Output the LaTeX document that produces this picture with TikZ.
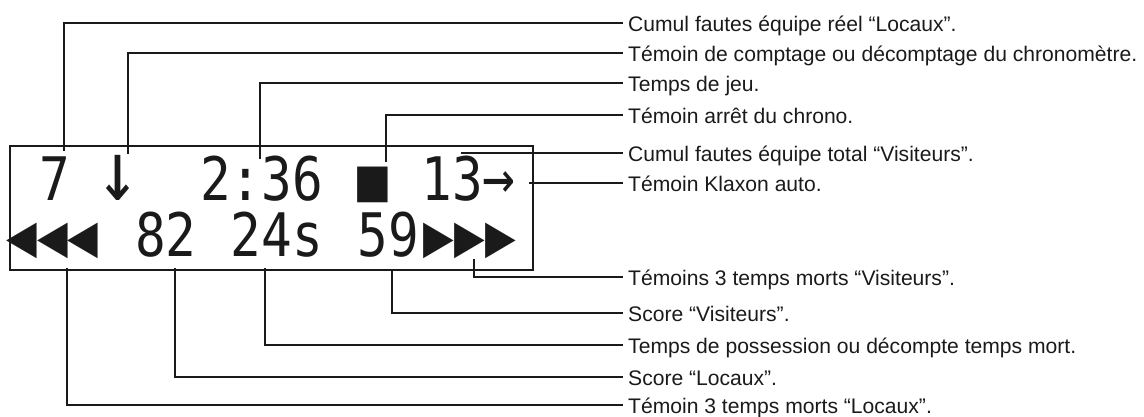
\documentclass[tikz,border=0pt]{standalone}
\usepackage{fontspec}
\setmainfont{Liberation Sans}
\newfontfamily\lcdfont[FakeStretch=0.85]{DejaVu Sans Mono}
\usetikzlibrary{positioning}
\definecolor{ink}{HTML}{1A1A1A}

\begin{document}
\begin{tikzpicture}[x=1pt, y=-1pt,
    lcd/.style={font=\lcdfont\fontsize{60}{60}\selectfont, text=ink, inner sep=0pt, anchor=base},
    lcdbig/.style={lcd, font=\lcdfont\fontsize{84}{84}\selectfont},
    lbl/.style={font=\fontsize{21.1}{24}\selectfont, text=ink, anchor=west, inner xsep=5pt, inner ysep=0pt, text height=16pt, text depth=0pt},
    lead/.style={draw=ink, line width=1.2pt}
]
    \useasboundingbox (0,0) rectangle (1144,416);

    % display
    \node (screen) [draw=ink, line width=1.3pt, minimum width=523pt, minimum height=124pt, inner sep=0pt] at (271.5,208) {};

    \node (fl) [lcd] at (55,200) {7};
    \node (dir) [lcdbig] at (118,200) {↓};
    \node (clock) [lcd] at (261.5,200) {2:36};
    \node (stop) [lcd] at (372.5,200) {■};
    \node (fv) [lcd] at (452,200) {13};
    \node (horn) [lcd, font=\lcdfont\fontsize{64}{64}\selectfont] at (499,199) {→};

    \node (tml) [lcd] at (52.5,256) {◀◀◀};
    \node (sl) [lcd] at (166,256) {82};
    \node (poss) [lcd] at (277,256) {24s};
    \node (sv) [lcd] at (388,256) {59};
    \node (tmv) [lcd] at (470,256) {▶▶▶};

    % labels
    \node (l-fl) [lbl] at (623,23) {Cumul fautes équipe réel “Locaux”.};
    \node (l-dir) [lbl] at (623,53) {Témoin de comptage ou décomptage du chronomètre.};
    \node (l-clock) [lbl] at (623,83) {Temps de jeu.};
    \node (l-stop) [lbl] at (623,115) {Témoin arrêt du chrono.};
    \node (l-fv) [lbl] at (623,153) {Cumul fautes équipe total “Visiteurs”.};
    \node (l-horn) [lbl] at (623,183) {Témoin Klaxon auto.};
    \node (l-tmv) [lbl] at (623,277) {Témoins 3 temps morts “Visiteurs”.};
    \node (l-sv) [lbl] at (623,313) {Score “Visiteurs”.};
    \node (l-poss) [lbl] at (623,345) {Temps de possession ou décompte temps mort.};
    \node (l-sl) [lbl] at (623,377) {Score “Locaux”.};
    \node (l-tml) [lbl] at (623,405) {Témoin 3 temps morts “Locaux”.};

    % leader ends
    \coordinate (c-fl) at (64,151);
    \coordinate (c-dir) at (128,154);
    \coordinate (c-clock) at (260,159);
    \coordinate (c-stop) at (386,162);
    \coordinate (c-fv) at (461,153);
    \coordinate (c-horn) at (529,183);
    \coordinate (c-tmv) at (474,259);
    \coordinate (c-sv) at (392,270);
    \coordinate (c-poss) at (265,268);
    \coordinate (c-sl) at (175,268);
    \coordinate (c-tml) at (67,268);

    \draw [lead] (c-fl) |- (l-fl.west);
    \draw [lead] (c-dir) |- (l-dir.west);
    \draw [lead] (c-clock) |- (l-clock.west);
    \draw [lead] (c-stop) |- (l-stop.west);
    \draw [lead] (c-fv) -- (l-fv.west);
    \draw [lead] (c-horn) -- (l-horn.west);
    \draw [lead] (c-tmv) |- (l-tmv.west);
    \draw [lead] (c-sv) |- (l-sv.west);
    \draw [lead] (c-poss) |- (l-poss.west);
    \draw [lead] (c-sl) |- (l-sl.west);
    \draw [lead] (c-tml) |- (l-tml.west);
\end{tikzpicture}
\end{document}
